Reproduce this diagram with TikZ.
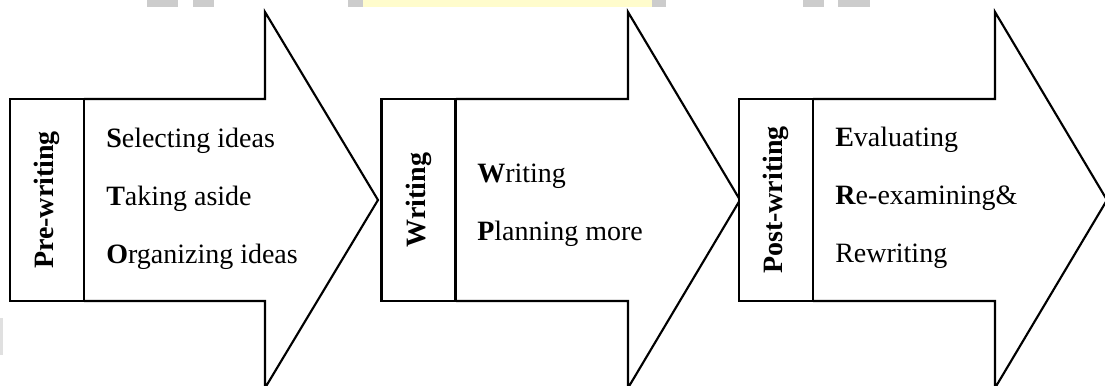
\documentclass[tikz,border=0pt]{standalone}
\usepackage{fontspec}
\setmainfont{Liberation Serif}
\begin{document}
\begin{tikzpicture}[x=0.75pt,y=-0.75pt,
  bigarrow/.style={draw=black,line width=1.6pt,fill=white,line join=miter},
  stagebox/.style={draw=black,line width=1.8pt,fill=white,rotate=90,
    minimum width=151.5pt,minimum height=55.5pt,inner sep=0pt,
    font=\fontsize{21}{24}\selectfont\bfseries},
  item/.style={anchor=base west,inner sep=0pt,font=\fontsize{21}{24}\selectfont},
  wmgray/.style={fill=black!20,draw=none},
  wmyellow/.style={fill=yellow!20,draw=none}]
\useasboundingbox (0,0) rectangle (1105,385);
\clip (0,0) rectangle (1105,385);
% watermark remnants
\fill[wmgray] (147,0) rectangle (178,7);
\fill[wmgray] (193,0) rectangle (214,7);
\fill[wmgray] (348,0) rectangle (363,7);
\fill[wmyellow] (363,0) rectangle (652,7);
\fill[wmgray] (652,0) rectangle (666,7);
\fill[wmgray] (803,0) rectangle (824,7);
\fill[wmgray] (838,0) rectangle (870,7);
\fill[black!12] (0,318) rectangle (3,355);
% arrows
\draw[bigarrow] (84,99) -- (265,99) -- (265,12) -- (378,200) -- (265,388) -- (265,301) -- (84,301);
\draw[bigarrow] (456,99) -- (628,99) -- (628,12) -- (740,200) -- (628,388) -- (628,301) -- (456,301);
\draw[bigarrow] (813,99) -- (995,99) -- (995,12) -- (1107,200) -- (995,388) -- (995,301) -- (813,301);
% stage boxes
\node[stagebox] (pre) at (47,200) {Pre-writing};
\node[stagebox] (wri) at (418.5,200) {Writing};
\node[stagebox] (post) at (776,200) {Post-writing};
% items
\node[item] (s1) at (106,147) {\textbf{S}electing ideas};
\node[item] (s2) at (106,205) {\textbf{T}aking aside};
\node[item] (s3) at (106,263) {\textbf{O}rganizing ideas};
\node[item] (w1) at (477,182) {\textbf{W}riting};
\node[item] (w2) at (477,240) {\textbf{P}lanning more};
\node[item] (p1) at (835,146) {\textbf{E}valuating};
\node[item] (p2) at (835,204) {\textbf{R}e-examining\&};
\node[item] (p3) at (835,262) {Rewriting};
\end{tikzpicture}
\end{document}
